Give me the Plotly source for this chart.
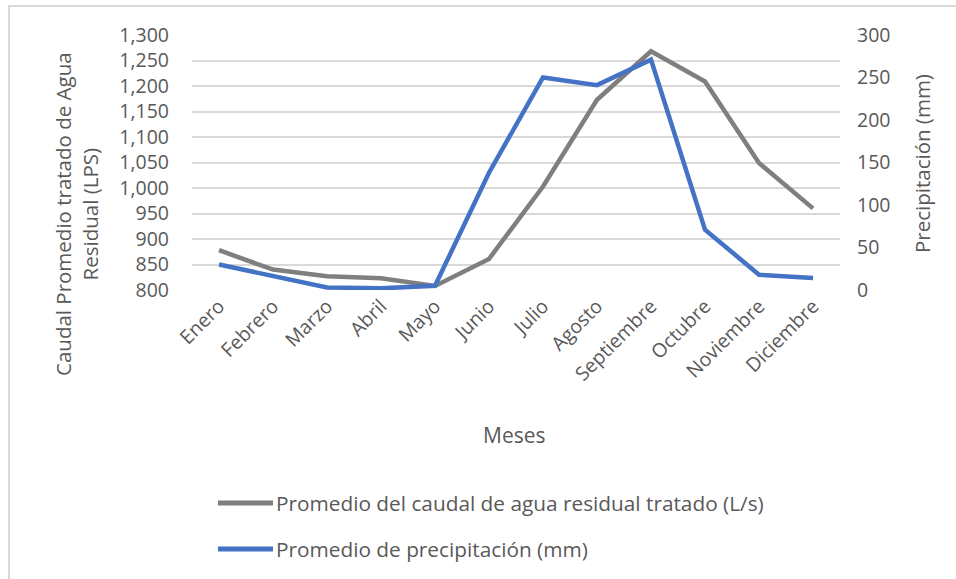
import plotly.graph_objects as go

meses = ["Enero", "Febrero", "Marzo", "Abril", "Mayo", "Junio", "Julio",
         "Agosto", "Septiembre", "Octubre", "Noviembre", "Diciembre"]
caudal = [878, 840, 827, 823, 808, 861, 1003, 1173, 1268, 1209, 1049, 960]
precipitacion = [30, 16, 3, 2, 5, 138, 250, 241, 271, 71, 18, 14]

nombre_caudal = "Promedio del caudal de agua residual tratado (L/s)"
nombre_precip = "Promedio de precipitación (mm)"

GRAY = "#7f7f7f"
BLUE = "#4472c4"
TXT = "#595959"
GRID = "#d9d9d9"
FONT = "Open Sans"

W, H = 956, 579
L, R, T, B = 192, 116, 35, 289
PW, PH = W - L - R, H - T - B


def px(x):
    return (x - L) / PW


def py(y):
    return (H - B - y) / PH


fig = go.Figure()
fig.add_trace(go.Scatter(x=meses, y=caudal, mode="lines", name=nombre_caudal,
                         line=dict(color=GRAY, width=4.5), yaxis="y"))
fig.add_trace(go.Scatter(x=meses, y=precipitacion, mode="lines", name=nombre_precip,
                         line=dict(color=BLUE, width=4.5), yaxis="y2"))

tickfont = dict(family=FONT, size=19.5, color=TXT)

fig.update_layout(
    width=W, height=H,
    margin=dict(l=L, r=R, t=T, b=B, pad=0),
    paper_bgcolor="white", plot_bgcolor="white",
    showlegend=False,
    font=dict(family=FONT, color=TXT),
    xaxis=dict(type="category", range=[-0.5, 11.5], showgrid=False, showline=False,
               zeroline=False, ticks="", tickangle=-45, tickfont=tickfont),
    yaxis=dict(range=[800, 1300], dtick=50, tickformat=",", showgrid=True,
               gridcolor=GRID, gridwidth=1.5, zeroline=False, showline=False,
               ticks="", tickfont=tickfont, ticklabelstandoff=22),
    yaxis2=dict(range=[0, 300], dtick=50, overlaying="y", side="right",
                showgrid=False, zeroline=False, showline=False, ticks="",
                tickfont=tickfont, ticklabelstandoff=16),
)

ann_font = dict(family=FONT, size=20.5, color=TXT)
fig.add_annotation(text="Caudal Promedio tratado de Agua<br>Residual (LPS)",
                   xref="paper", yref="paper", x=px(76), y=py(214),
                   xanchor="center", yanchor="middle", textangle=-90,
                   showarrow=False, font=ann_font)
fig.add_annotation(text="Precipitación (mm)", xref="paper", yref="paper",
                   x=px(922), y=py(163), xanchor="center", yanchor="middle",
                   textangle=-90, showarrow=False, font=ann_font)
fig.add_annotation(text="Meses", xref="paper", yref="paper",
                   x=px(514), y=py(435), xanchor="center", yanchor="middle",
                   showarrow=False, font=dict(family=FONT, size=21, color=TXT))

# legend drawn manually
for name, color, yy in [(nombre_caudal, GRAY, 503), (nombre_precip, BLUE, 549)]:
    fig.add_shape(type="line", xref="paper", yref="paper",
                  x0=px(218), x1=px(273), y0=py(yy), y1=py(yy),
                  line=dict(color=color, width=5))
    fig.add_annotation(text=name, xref="paper", yref="paper",
                       x=px(274), y=py(yy), xanchor="left", yanchor="middle",
                       showarrow=False, font=dict(family=FONT, size=20.8, color=TXT))

# outer frame
fig.add_shape(type="rect", xref="paper", yref="paper",
              x0=px(9), x1=px(W + 10), y0=py(6), y1=py(H + 10),
              line=dict(color=GRID, width=2), layer="below")

fig.write_html("out.html")
